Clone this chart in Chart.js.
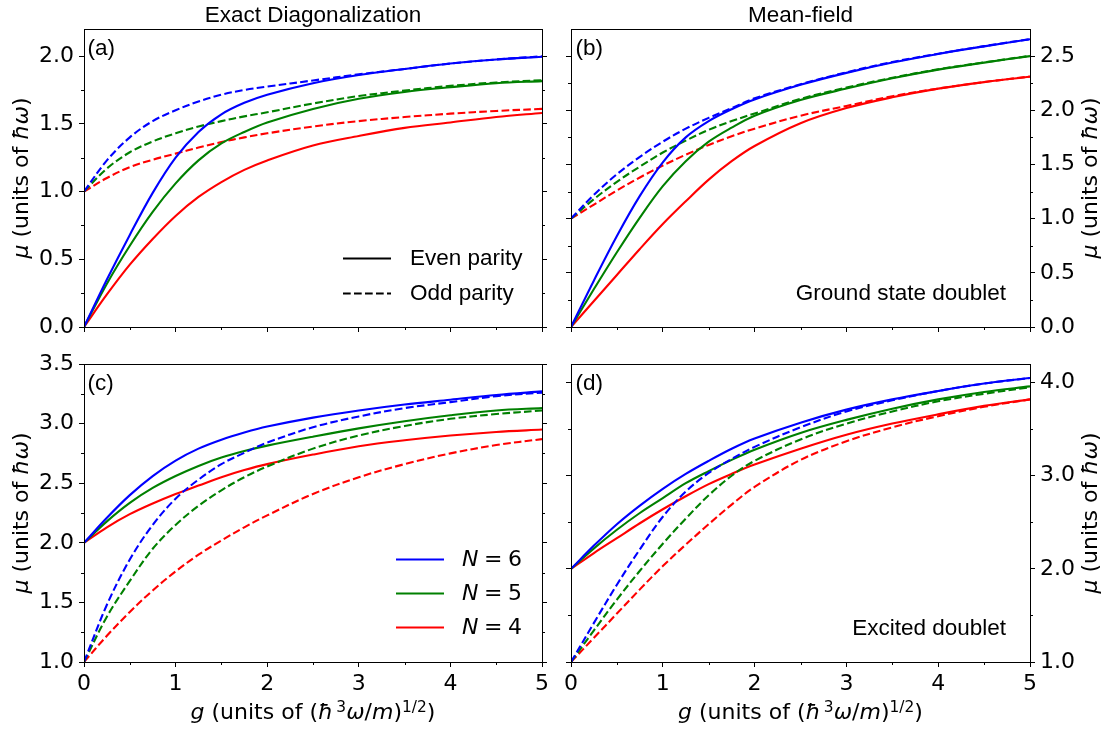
<!DOCTYPE html>
<html><head><meta charset="utf-8">
<script src="https://cdn.jsdelivr.net/npm/chart.js@4.4.1/dist/chart.umd.min.js"></script>
<style>
html,body{margin:0;padding:0;background:#fff;}
#fig{position:relative;width:1107px;height:732px;overflow:hidden;background:#fff;}
#fig canvas{position:absolute;left:0;top:0;}
.t{position:absolute;white-space:nowrap;line-height:0;color:#000;}
.ar{font-family:'Liberation Sans',Arial,sans-serif;font-size:22.5px;}
.dv{font-family:'DejaVu Sans',sans-serif;font-size:22px;}
.rot{position:absolute;width:0;height:0;transform:rotate(-90deg);transform-origin:0 0;}
.rot>span{position:absolute;left:0;top:0;transform:translateX(-50%);white-space:nowrap;line-height:0;font-family:'DejaVu Sans',sans-serif;font-size:22px;color:#000;}
.sup{font-size:70%;position:relative;top:-0.5em;}
i{font-style:italic;}
svg{position:absolute;left:0;top:0;}
</style></head>
<body>
<div id="fig">
<canvas id="cA" width="1107" height="732" style="width:1107px;height:732px"></canvas>
<canvas id="cB" width="1107" height="732" style="width:1107px;height:732px"></canvas>
<canvas id="cC" width="1107" height="732" style="width:1107px;height:732px"></canvas>
<canvas id="cD" width="1107" height="732" style="width:1107px;height:732px"></canvas>
</div>
<script>
// ---------------- data ----------------
const G = [0, 0.25, 0.5, 0.75, 1, 1.25, 1.5, 1.75, 2, 2.5, 3, 3.5, 4, 4.5, 5];

// (a) Exact diagonalization, ground state doublet
const edGsEvenN6 = [0, 0.35, 0.68, 0.99, 1.25, 1.44, 1.57, 1.655, 1.715, 1.80, 1.86, 1.905, 1.945, 1.975, 1.995];
const edGsOddN6  = [1.0, 1.23, 1.40, 1.52, 1.60, 1.665, 1.715, 1.75, 1.775, 1.82, 1.865, 1.905, 1.945, 1.975, 1.998];
const edGsEvenN5 = [0, 0.32, 0.60, 0.85, 1.06, 1.23, 1.355, 1.44, 1.51, 1.61, 1.685, 1.735, 1.77, 1.80, 1.815];
const edGsOddN5  = [1.0, 1.17, 1.29, 1.37, 1.43, 1.48, 1.52, 1.555, 1.585, 1.65, 1.705, 1.745, 1.78, 1.805, 1.822];
const edGsEvenN4 = [0, 0.24, 0.46, 0.65, 0.82, 0.96, 1.07, 1.16, 1.23, 1.34, 1.41, 1.47, 1.51, 1.55, 1.58];
const edGsOddN4  = [1.0, 1.10, 1.18, 1.235, 1.28, 1.325, 1.365, 1.40, 1.43, 1.48, 1.52, 1.55, 1.575, 1.595, 1.61];

// (b) Mean-field, ground state doublet
const mfGsEvenN6 = [0, 0.43, 0.84, 1.21, 1.52, 1.75, 1.90, 2.01, 2.10, 2.235, 2.345, 2.44, 2.52, 2.59, 2.655];
const mfGsOddN6  = [1.0, 1.22, 1.41, 1.57, 1.71, 1.83, 1.93, 2.02, 2.11, 2.24, 2.35, 2.445, 2.522, 2.592, 2.656];
const mfGsEvenN5 = [0, 0.35, 0.69, 1.01, 1.30, 1.53, 1.71, 1.84, 1.95, 2.095, 2.20, 2.295, 2.375, 2.44, 2.50];
const mfGsOddN5  = [1.0, 1.18, 1.34, 1.48, 1.61, 1.72, 1.82, 1.90, 1.97, 2.105, 2.21, 2.30, 2.378, 2.442, 2.502];
const mfGsEvenN4 = [0, 0.24, 0.48, 0.72, 0.95, 1.16, 1.36, 1.53, 1.67, 1.88, 2.02, 2.12, 2.20, 2.26, 2.31];
const mfGsOddN4  = [1.0, 1.13, 1.26, 1.38, 1.49, 1.59, 1.68, 1.76, 1.83, 1.95, 2.04, 2.13, 2.20, 2.26, 2.312];

// (c) Exact diagonalization, excited doublet
const edExEvenN6 = [2.0, 2.21, 2.40, 2.56, 2.69, 2.79, 2.865, 2.925, 2.975, 3.05, 3.11, 3.16, 3.20, 3.24, 3.27];
const edExOddN6  = [1.0, 1.48, 1.86, 2.15, 2.37, 2.53, 2.66, 2.755, 2.84, 2.97, 3.06, 3.13, 3.18, 3.23, 3.26];
const edExEvenN5 = [2.0, 2.18, 2.335, 2.46, 2.56, 2.645, 2.715, 2.77, 2.815, 2.89, 2.96, 3.02, 3.07, 3.11, 3.13];
const edExOddN5  = [1.0, 1.38, 1.68, 1.95, 2.15, 2.31, 2.44, 2.55, 2.64, 2.79, 2.90, 2.98, 3.04, 3.08, 3.11];
const edExEvenN4 = [2.0, 2.13, 2.24, 2.33, 2.41, 2.48, 2.55, 2.61, 2.66, 2.74, 2.81, 2.86, 2.90, 2.93, 2.95];
const edExOddN4  = [1.0, 1.22, 1.42, 1.60, 1.76, 1.90, 2.02, 2.13, 2.23, 2.41, 2.55, 2.66, 2.75, 2.82, 2.87];

// (d) Mean-field, excited doublet
const mfExEvenN6 = [2.0, 2.25, 2.48, 2.68, 2.86, 3.02, 3.16, 3.29, 3.40, 3.57, 3.71, 3.82, 3.91, 3.99, 4.05];
const mfExOddN6  = [1.0, 1.42, 1.83, 2.21, 2.56, 2.83, 3.03, 3.18, 3.31, 3.52, 3.69, 3.81, 3.91, 3.99, 4.05];
const mfExEvenN5 = [2.0, 2.22, 2.42, 2.60, 2.76, 2.92, 3.05, 3.17, 3.28, 3.46, 3.60, 3.72, 3.82, 3.90, 3.96];
const mfExOddN5  = [1.0, 1.34, 1.67, 1.98, 2.27, 2.54, 2.79, 3.00, 3.16, 3.39, 3.56, 3.69, 3.80, 3.88, 3.95];
const mfExEvenN4 = [2.0, 2.17, 2.33, 2.49, 2.64, 2.78, 2.91, 3.02, 3.12, 3.29, 3.44, 3.56, 3.66, 3.75, 3.82];
const mfExOddN4  = [1.0, 1.26, 1.52, 1.78, 2.03, 2.26, 2.48, 2.69, 2.88, 3.17, 3.37, 3.52, 3.64, 3.74, 3.82];

// ticks
const X_TICKS = [0, 1, 2, 3, 4, 5];
const X_MINOR = [0.5, 1.5, 2.5, 3.5, 4.5];
const Y_TICKS_A = [0, 0.5, 1.0, 1.5, 2.0];
const Y_MINOR_A = [0.25, 0.75, 1.25, 1.75];
const Y_TICKS_B = [0, 0.5, 1.0, 1.5, 2.0, 2.5];
const Y_MINOR_B = [0.25, 0.75, 1.25, 1.75, 2.25];
const Y_TICKS_C = [1.0, 1.5, 2.0, 2.5, 3.0, 3.5];
const Y_MINOR_C = [1.25, 1.75, 2.25, 2.75, 3.25];
const Y_TICKS_D = [1.0, 2.0, 3.0, 4.0];
const Y_MINOR_D = [1.5, 2.5, 3.5];

const C6 = '#0000ff', C5 = '#008000', C4 = '#ff0000';

// ---------------- drawing ----------------
const W = 1107, H = 732, SIDE = 60, BOT = 40;

const minorTicks = {
  id: 'minorTicks',
  afterDraw(chart, args, opts) {
    const ctx = chart.ctx, a = chart.chartArea;
    const ys = chart.scales.y, xs = chart.scales.x;
    ctx.save();
    ctx.strokeStyle = '#000'; ctx.lineWidth = 1;
    ctx.beginPath();
    (opts.y || []).forEach(v => {
      const p = Math.round(ys.getPixelForValue(v)) + 0.5;
      ctx.moveTo(a.left, p); ctx.lineTo(a.left - 3, p);
      ctx.moveTo(a.right, p); ctx.lineTo(a.right + 3, p);
    });
    X_MINOR.forEach(v => {
      const p = Math.round(xs.getPixelForValue(v)) + 0.5;
      ctx.moveTo(p, a.bottom); ctx.lineTo(p, a.bottom + 3);
    });
    ctx.stroke();
    ctx.restore();
  }
};

function fixV(w) { return sc => { sc.width = w; sc.paddingTop = 0; sc.paddingBottom = 0; sc.paddingLeft = 0; sc.paddingRight = 0; }; }
function fixH(h) { return sc => { sc.height = h; sc.paddingTop = 0; sc.paddingBottom = 0; sc.paddingLeft = 0; sc.paddingRight = 0; }; }

function makeChart(id, area, yMin, yMax, yTicks, yMinor, series, showX, showLeft, showRight) {
  const datasets = series.map(s => ({
    data: G.map((g, i) => ({ x: g, y: s.v[i] })),
    borderColor: s.c, borderWidth: 2.1,
    borderDash: s.d ? [7.7, 3.3] : [],
    pointRadius: 0, fill: false,
    tension: 0.35,
    xAxisID: 'x', yAxisID: 'y'
  }));
  const tickFont = { family: 'DejaVu Sans', size: 22 };
  const grid = { display: true, drawOnChartArea: false, drawTicks: true, tickLength: 5, tickWidth: 1, tickColor: '#000', color: '#000' };
  const border = { display: true, color: '#000', width: 1, z: 1 };
  const yAxis = (pos, show) => ({
    type: 'linear', position: pos, min: yMin, max: yMax,
    afterBuildTicks: sc => { sc.ticks = yTicks.map(v => ({ value: v })); },
    ticks: { display: show, font: tickFont, color: '#000', padding: 5, autoSkip: false,
             callback: v => Number(v).toFixed(1) },
    grid: grid, border: border, afterFit: fixV(SIDE)
  });
  return new Chart(document.getElementById(id), {
    type: 'line',
    data: { datasets },
    options: {
      responsive: false, animation: false, devicePixelRatio: 1,
      layout: { padding: { left: area.l - SIDE, right: W - area.r - SIDE, top: area.t, bottom: H - area.b - BOT } },
      plugins: { legend: { display: false }, tooltip: { enabled: false }, minorTicks: { y: yMinor } },
      scales: {
        x: {
          type: 'linear', position: 'bottom', min: 0, max: 5,
          afterBuildTicks: sc => { sc.ticks = X_TICKS.map(v => ({ value: v })); },
          ticks: { display: showX, font: tickFont, color: '#000', padding: 4, maxRotation: 0, autoSkip: false,
                   callback: v => String(v) },
          grid: grid, border: border, afterFit: fixH(BOT)
        },
        xTop: {
          type: 'linear', position: 'top', min: 0, max: 5,
          ticks: { display: false }, grid: { display: false }, border: border, afterFit: fixH(0)
        },
        y: yAxis('left', showLeft),
        y2: yAxis('right', showRight)
      }
    },
    plugins: [minorTicks]
  });
}

const AREA_A = { l: 84, r: 542, t: 29, b: 327 };
const AREA_B = { l: 571, r: 1030, t: 29, b: 327 };
const AREA_C = { l: 84, r: 542, t: 364, b: 662 };
const AREA_D = { l: 571, r: 1030, t: 364, b: 662 };

makeChart('cA', AREA_A, 0, 2.2, Y_TICKS_A, Y_MINOR_A, [
  { v: edGsEvenN6, c: C6 }, { v: edGsOddN6, c: C6, d: 1 },
  { v: edGsEvenN5, c: C5 }, { v: edGsOddN5, c: C5, d: 1 },
  { v: edGsEvenN4, c: C4 }, { v: edGsOddN4, c: C4, d: 1 }
], false, true, false);

makeChart('cB', AREA_B, 0, 2.75, Y_TICKS_B, Y_MINOR_B, [
  { v: mfGsEvenN6, c: C6 }, { v: mfGsOddN6, c: C6, d: 1 },
  { v: mfGsEvenN5, c: C5 }, { v: mfGsOddN5, c: C5, d: 1 },
  { v: mfGsEvenN4, c: C4 }, { v: mfGsOddN4, c: C4, d: 1 }
], false, false, true);

makeChart('cC', AREA_C, 1.0, 3.5, Y_TICKS_C, Y_MINOR_C, [
  { v: edExEvenN6, c: C6 }, { v: edExOddN6, c: C6, d: 1 },
  { v: edExEvenN5, c: C5 }, { v: edExOddN5, c: C5, d: 1 },
  { v: edExEvenN4, c: C4 }, { v: edExOddN4, c: C4, d: 1 }
], true, true, false);

makeChart('cD', AREA_D, 1.0, 4.2, Y_TICKS_D, Y_MINOR_D, [
  { v: mfExEvenN6, c: C6 }, { v: mfExOddN6, c: C6, d: 1 },
  { v: mfExEvenN5, c: C5 }, { v: mfExOddN5, c: C5, d: 1 },
  { v: mfExEvenN4, c: C4 }, { v: mfExOddN4, c: C4, d: 1 }
], true, false, true);

// ---------------- text ----------------
const fig = document.getElementById('fig');
function txt(html, x, base, align, cls, fs) {
  const d = document.createElement('div');
  d.className = 't ' + cls;
  d.innerHTML = html;
  d.style.left = x + 'px';
  d.style.top = (base - 0.346 * fs) + 'px';
  if (align === 'center') d.style.transform = 'translateX(-50%)';
  if (align === 'right') d.style.transform = 'translateX(-100%)';
  fig.appendChild(d);
}
function rotTxt(html, x, y) {
  const d = document.createElement('div');
  d.className = 'rot';
  d.style.left = x + 'px'; d.style.top = y + 'px';
  d.innerHTML = '<span>' + html + '</span>';
  fig.appendChild(d);
}
const AR = 22.5, DV = 22;
txt('Exact Diagonalization', 313, 22.5, 'center', 'ar', AR);
txt('Mean-field', 800.5, 22.5, 'center', 'ar', AR);
txt('(a)', 87.5, 56, 'left', 'ar', AR);
txt('(b)', 575.5, 56, 'left', 'ar', AR);
txt('(c)', 87.5, 391, 'left', 'ar', AR);
txt('(d)', 575.5, 391, 'left', 'ar', AR);
txt('Ground state doublet', 1006, 301, 'right', 'ar', AR);
txt('Excited doublet', 1006, 636, 'right', 'ar', AR);

const YLAB = '<i>μ</i> (units of <i>ħω</i>)';
rotTxt(YLAB, 21.3, 178);
rotTxt(YLAB, 21.3, 513);
rotTxt(YLAB, 1089.7, 178);
rotTxt(YLAB, 1089.7, 513);
const XLAB = '<i>g</i> (units of (<i>ħ</i><span class="sup">&#8201;3</span><i>ω</i>/<i>m</i>)<span class="sup">1/2</span>)';
txt(XLAB, 313, 720, 'center', 'dv', DV);
txt(XLAB, 800.5, 720, 'center', 'dv', DV);

// legends
txt('Even parity', 410, 266, 'left', 'ar', AR);
txt('Odd parity', 410, 301, 'left', 'ar', AR);
txt('<i>N</i>&#8197;=&#8197;6', 462, 567, 'left', 'dv', DV);
txt('<i>N</i>&#8197;=&#8197;5', 462, 601, 'left', 'dv', DV);
txt('<i>N</i>&#8197;=&#8197;4', 462, 635, 'left', 'dv', DV);

const NS = 'http://www.w3.org/2000/svg';
const svg = document.createElementNS(NS, 'svg');
svg.setAttribute('width', W); svg.setAttribute('height', H);
function seg(x1, x2, y, col, dash) {
  const l = document.createElementNS(NS, 'line');
  l.setAttribute('x1', x1); l.setAttribute('x2', x2);
  l.setAttribute('y1', y); l.setAttribute('y2', y);
  l.setAttribute('stroke', col); l.setAttribute('stroke-width', 2.1);
  if (dash) l.setAttribute('stroke-dasharray', '7.7 3.3');
  svg.appendChild(l);
}
seg(343, 391, 258.5, '#000', false);
seg(343, 391, 293.5, '#000', true);
seg(396, 444, 559.5, C6, false);
seg(396, 444, 593.5, C5, false);
seg(396, 444, 627.5, C4, false);
fig.appendChild(svg);
</script>
</body></html>
